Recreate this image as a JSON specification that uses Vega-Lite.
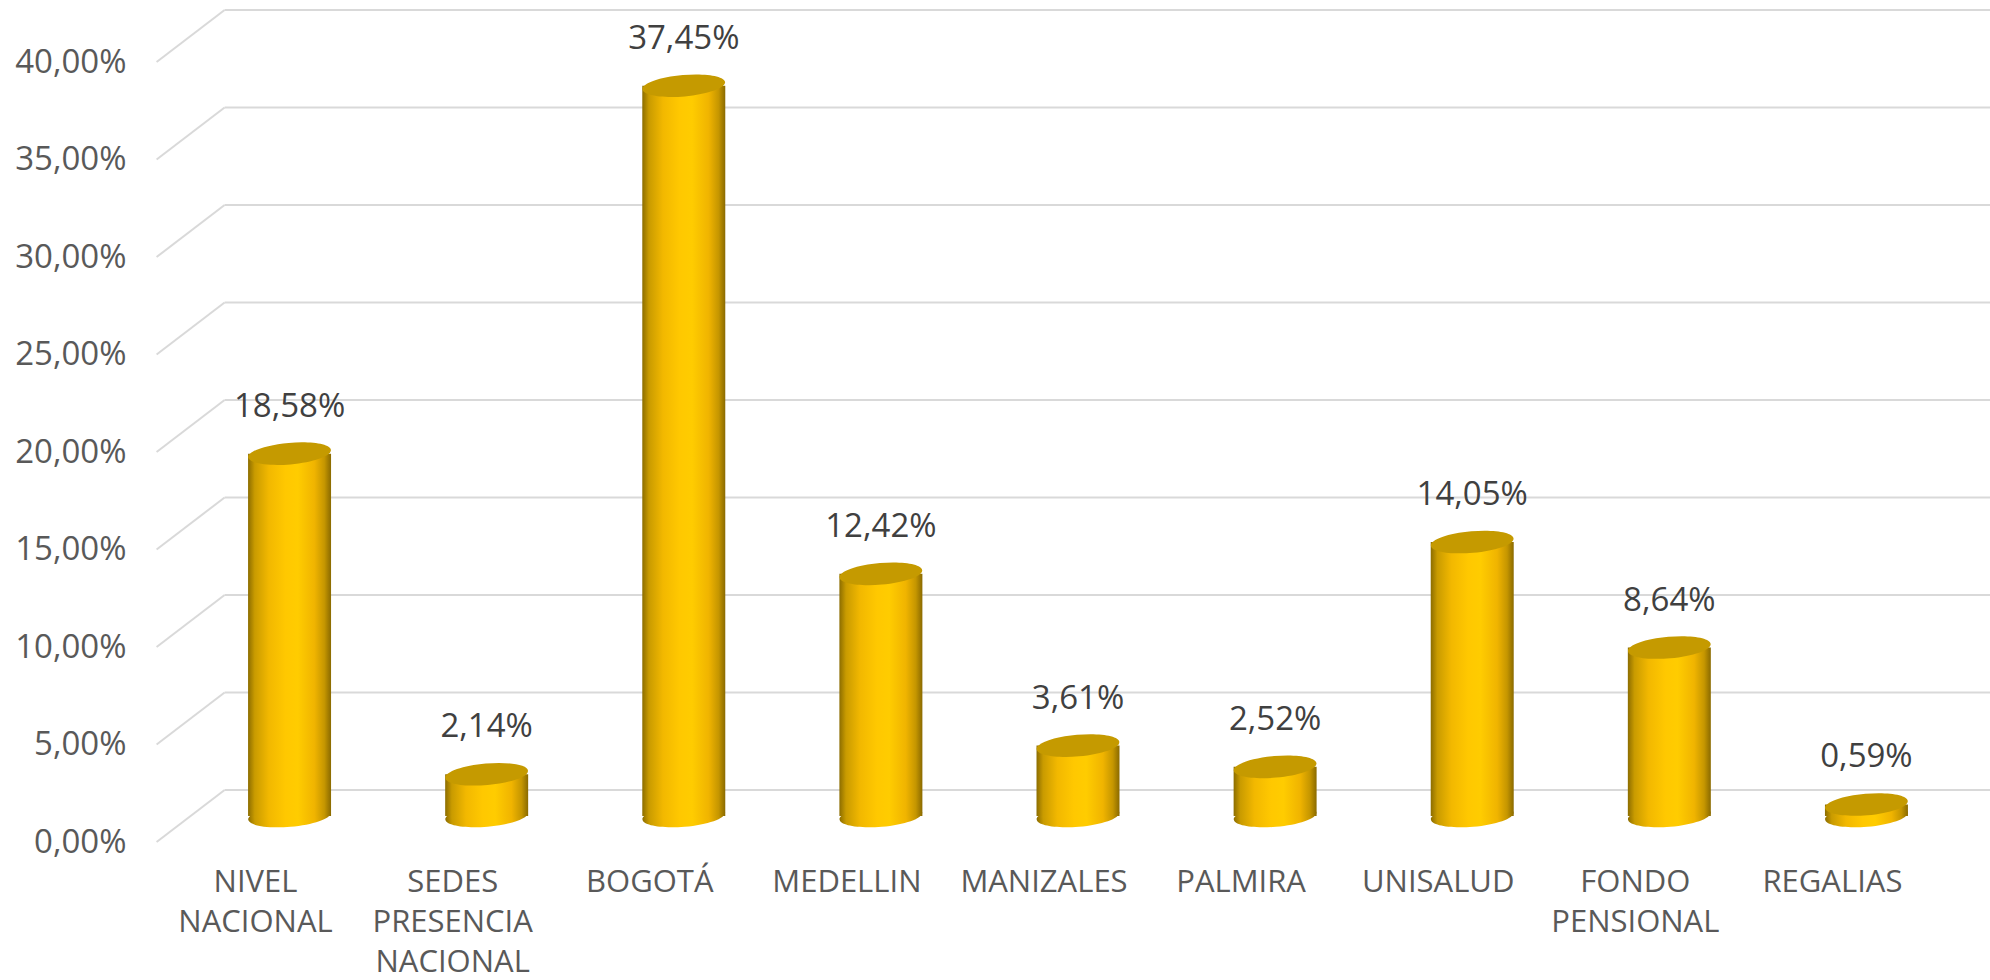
{
  "$schema": "https://vega.github.io/schema/vega-lite/v6.json",
  "width": 1774,
  "height": 780,
  "autosize": "none",
  "padding": {"left": 191, "top": 36, "right": 25, "bottom": 164},
  "background": "#ffffff",
  "config": {
    "view": {"stroke": null},
    "locale": {"number": {"decimal": ",", "thousands": ".", "grouping": [3], "currency": ["", " €"]}}
  },
  "datasets": {
    "bars": [
      {"cat": "NIVEL NACIONAL", "v": 0.1858},
      {"cat": "SEDES PRESENCIA NACIONAL", "v": 0.0214},
      {"cat": "BOGOTÁ", "v": 0.3745},
      {"cat": "MEDELLIN", "v": 0.1242},
      {"cat": "MANIZALES", "v": 0.0361},
      {"cat": "PALMIRA", "v": 0.0252},
      {"cat": "UNISALUD", "v": 0.1405},
      {"cat": "FONDO PENSIONAL", "v": 0.0864},
      {"cat": "REGALIAS", "v": 0.0059}
    ],
    "grid": [
      {"g": 0}, {"g": 0.05}, {"g": 0.1}, {"g": 0.15}, {"g": 0.2},
      {"g": 0.25}, {"g": 0.3}, {"g": 0.35}, {"g": 0.4}
    ]
  },
  "layer": [
    {
      "data": {"name": "grid"},
      "mark": {"type": "rule", "x": 33.6, "x2": 1799, "yOffset": -26, "color": "#d9d9d9", "strokeWidth": 2},
      "encoding": {
        "y": {"field": "g", "type": "quantitative", "scale": {"domain": [0, 0.4], "nice": false},
          "axis": {"title": null, "domain": false, "ticks": false, "grid": false,
            "values": [0, 0.05, 0.1, 0.15, 0.2, 0.25, 0.3, 0.35, 0.4], "format": ".2%",
            "labelFont": "Open Sans", "labelFontSize": 33, "labelColor": "#595959",
            "labelPadding": 65, "labelOffset": 26}}
      }
    },
    {
      "data": {"name": "grid"},
      "mark": {"type": "rule", "yOffset": 26, "y2Offset": -26, "color": "#d9d9d9", "strokeWidth": 2},
      "encoding": {
        "x": {"value": -34.4},
        "x2": {"value": 33.6},
        "y": {"field": "g", "type": "quantitative", "scale": {"domain": [0, 0.4], "nice": false},
          "axis": {"title": null, "domain": false, "ticks": false, "grid": false,
            "values": [0, 0.05, 0.1, 0.15, 0.2, 0.25, 0.3, 0.35, 0.4], "format": ".2%",
            "labelFont": "Open Sans", "labelFontSize": 33, "labelColor": "#595959",
            "labelPadding": 65, "labelOffset": 26}},
        "y2": {"field": "g"}
      }
    },
    {
      "data": {"name": "bars"},
      "encoding": {
        "x": {"field": "cat", "type": "nominal", "sort": null,
          "scale": {"paddingInner": 0.579, "paddingOuter": 0.2895},
          "axis": {"title": null, "domain": false, "ticks": false, "labelAngle": 0,
            "labelFont": "Open Sans", "labelFontSize": 31, "labelColor": "#595959",
            "labelPadding": 51, "labelBaseline": "top", "labelLineHeight": 40, "labelLimit": 400,
            "labelOffset": -34,
            "labelExpr": "split(datum.label, ' ')"}},
        "y": {"field": "v", "type": "quantitative", "scale": {"domain": [0, 0.4], "nice": false},
          "axis": {"title": null, "domain": false, "ticks": false, "grid": false,
            "values": [0, 0.05, 0.1, 0.15, 0.2, 0.25, 0.3, 0.35, 0.4], "format": ".2%",
            "labelFont": "Open Sans", "labelFontSize": 33, "labelColor": "#595959",
            "labelPadding": 65, "labelOffset": 26}}
      },
      "layer": [
        {
          "mark": {
            "type": "point",
            "filled": true,
            "shape": "M-1,0A1,0.26,0,1,1,1,0A1,0.26,0,1,1,-1,0Z",
            "size": 6889,
            "angle": 355,
            "opacity": 1,
            "strokeWidth": 0,
            "fill": {"gradient": "linear", "x1": 0, "x2": 1, "y1": 0, "y2": 0,
              "stops": [
                {"offset": 0, "color": "#8c6d00"},
                {"offset": 0.08, "color": "#c99b00"},
                {"offset": 0.25, "color": "#f2b800"},
                {"offset": 0.45, "color": "#ffc800"},
                {"offset": 0.6, "color": "#ffcc00"},
                {"offset": 0.8, "color": "#f0b400"},
                {"offset": 0.92, "color": "#c59600"},
                {"offset": 1, "color": "#8a6a00"}
              ]}
          },
          "encoding": {
            "y": {"datum": 0, "type": "quantitative", "scale": {"domain": [0, 0.4], "nice": false},
              "axis": {"title": null, "domain": false, "ticks": false, "grid": false,
                "values": [0, 0.05, 0.1, 0.15, 0.2, 0.25, 0.3, 0.35, 0.4], "format": ".2%",
                "labelFont": "Open Sans", "labelFontSize": 33, "labelColor": "#595959",
                "labelPadding": 65, "labelOffset": 26}}
          }
        },
        {
          "mark": {
            "type": "bar",
            "fill": {"gradient": "linear", "x1": 0, "x2": 1, "y1": 0, "y2": 0,
              "stops": [
                {"offset": 0, "color": "#8c6d00"},
                {"offset": 0.08, "color": "#c99b00"},
                {"offset": 0.25, "color": "#f2b800"},
                {"offset": 0.45, "color": "#ffc800"},
                {"offset": 0.6, "color": "#ffcc00"},
                {"offset": 0.8, "color": "#f0b400"},
                {"offset": 0.92, "color": "#c59600"},
                {"offset": 1, "color": "#8a6a00"}
              ]}
          }
        },
        {
          "mark": {
            "type": "point",
            "filled": true,
            "shape": "M-1,0A1,0.26,0,1,1,1,0A1,0.26,0,1,1,-1,0Z",
            "size": 6889,
            "angle": 355,
            "opacity": 1,
            "strokeWidth": 0,
            "fill": "#c59a00"
          }
        },
        {
          "mark": {"type": "text", "font": "Open Sans", "fontSize": 33, "color": "#404040", "baseline": "middle", "dy": -47},
          "encoding": {
            "text": {"field": "v", "type": "quantitative", "format": ".2%"}
          }
        }
      ]
    }
  ]
}
